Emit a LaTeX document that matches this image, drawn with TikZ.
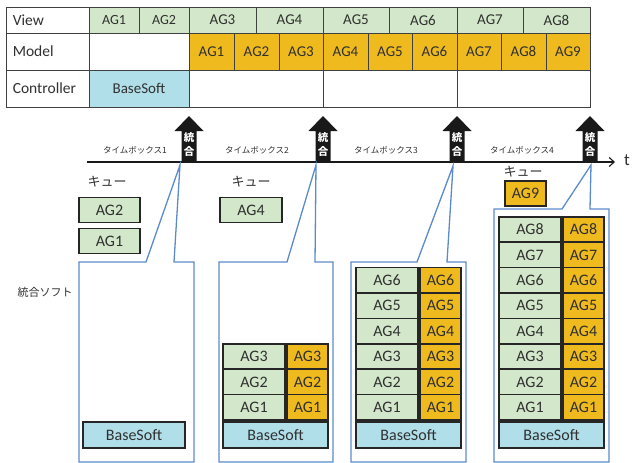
\documentclass[tikz,border=0pt]{standalone}
\usepackage{fontspec}
\setmainfont{Carlito}
\newfontfamily\jp{Noto Sans CJK JP}
\usetikzlibrary{arrows.meta}
\definecolor{gfill}{HTML}{D3E8CA}
\definecolor{ofill}{HTML}{EEBA1E}
\definecolor{bfill}{HTML}{B0DFEA}
\definecolor{cline}{HTML}{5B8BCB}
\definecolor{txt}{HTML}{303030}
\definecolor{bord}{HTML}{262626}
\definecolor{tline}{HTML}{404040}
\newcommand{\rbox}[7]{\node[#1, minimum width={(#4)-(#2)}, minimum height={(#5)-(#3)}] (#6) at ({((#2)+(#4))/2},{((#3)+(#5))/2}) {#7};}
\newcommand{\barrow}[2]{%
  \fill[black!90] (#1,116) -- (#1+14.5,131) -- (#1+7.5,131) -- (#1+7.5,161.5) -- (#1-7.5,161.5) -- (#1-7.5,131) -- (#1-14.5,131) -- cycle;
  \node[atxt] (#2a) at (#1,138) {統};
  \node[atxt] (#2b) at (#1,152) {合};}
\begin{document}
\begin{tikzpicture}[x=1pt,y=-1pt,
  cell/.style={draw=tline, line width=0.8pt, inner sep=0, text=txt, font=\fontsize{15}{15}\selectfont},
  vcell/.style={cell, fill=gfill},
  mcell/.style={cell, fill=ofill},
  ccell/.style={cell, fill=bfill},
  lbl/.style={anchor=west, inner sep=0, text=txt, font=\fontsize{15.5}{15.5}\selectfont},
  box/.style={draw=bord, line width=1.5pt, inner sep=0, text=txt, font=\fontsize{16}{16}\selectfont},
  gbox/.style={box, fill=gfill},
  obox/.style={box, fill=ofill},
  bbox/.style={box, fill=bfill},
  callout/.style={draw=cline, line width=1.3pt, line join=miter},
  jsmall/.style={inner sep=0, text=txt, font=\jp\fontsize{8.5}{8.5}\selectfont},
  jmid/.style={inner sep=0, text=txt, font=\jp\fontsize{13}{13}\selectfont},
  jlab/.style={inner sep=0, text=txt, font=\jp\fontsize{11}{11}\selectfont},
  atxt/.style={inner sep=0, text=white, font=\jp\bfseries\fontsize{10.5}{10.5}\selectfont},
]
\useasboundingbox (0,0) rectangle (632,463);

% ---------- table ----------
\rbox{cell}{6}{7}{89}{33}{lv}{}
\rbox{cell}{6}{33}{89}{70}{lm}{}
\rbox{cell}{6}{70}{89}{107}{lc}{}
\node[lbl] (lvt) at ([xshift=7pt]lv.west) {View};
\node[lbl] (lmt) at ([xshift=7pt]lm.west) {Model};
\node[lbl] (lct) at ([xshift=7pt]lc.west) {Controller};

\rbox{vcell, font=\fontsize{14}{14}\selectfont}{89}{7}{139}{33}{v1}{AG1}
\rbox{vcell, font=\fontsize{14}{14}\selectfont}{139}{7}{189}{33}{v2}{AG2}
\rbox{vcell}{189}{7}{256}{33}{v3}{AG3}
\rbox{vcell}{256}{7}{323}{33}{v4}{AG4}
\rbox{vcell}{323}{7}{389}{33}{v5}{AG5}
\rbox{vcell}{389}{7}{457}{33}{v6}{AG6}
\rbox{vcell}{457}{7}{523}{33}{v7}{AG7}
\rbox{vcell}{523}{7}{590}{33}{v8}{AG8}

\rbox{cell}{89}{33}{189}{70}{m0}{}
\rbox{mcell}{189}{33}{234}{70}{m1}{AG1}
\rbox{mcell}{234}{33}{279}{70}{m2}{AG2}
\rbox{mcell}{279}{33}{323}{70}{m3}{AG3}
\rbox{mcell}{323}{33}{368}{70}{m4}{AG4}
\rbox{mcell}{368}{33}{412}{70}{m5}{AG5}
\rbox{mcell}{412}{33}{457}{70}{m6}{AG6}
\rbox{mcell}{457}{33}{501}{70}{m7}{AG7}
\rbox{mcell}{501}{33}{546}{70}{m8}{AG8}
\rbox{mcell}{546}{33}{590}{70}{m9}{AG9}

\rbox{ccell}{89}{70}{189}{107}{c0}{BaseSoft}
\rbox{cell}{189}{70}{323}{107}{c1}{}
\rbox{cell}{323}{70}{457}{107}{c2}{}
\rbox{cell}{457}{70}{590}{107}{c3}{}

% ---------- timeline ----------
\coordinate (t0) at (87,162);
\coordinate (t1) at (615,162);
\draw[line width=1.1pt, black!90, -{Straight Barb[length=5pt,width=9pt,line width=1.1pt]}] (t0) -- (t1);
\node[inner sep=0, text=txt, font=\fontsize{17}{17}\selectfont] (tt) at (627,160) {t};

\node[jsmall] (tb1) at (135,150) {タイムボックス1};
\node[jsmall] (tb2) at (257,150) {タイムボックス2};
\node[jsmall] (tb3) at (386,150) {タイムボックス3};
\node[jsmall] (tb4) at (522,150) {タイムボックス4};

\barrow{189}{ba1}
\barrow{323}{ba2}
\barrow{457}{ba3}
\barrow{590}{ba4}

% ---------- queues ----------
\node[jmid] (q1) at (107,182) {キュー};
\node[jmid] (q2) at (251,182) {キュー};
\node[jmid] (q4) at (523,172) {キュー};
\rbox{gbox}{79}{197.5}{140}{222.5}{q1a}{AG2}
\rbox{gbox}{79}{228.5}{140}{253.5}{q1b}{AG1}
\rbox{gbox}{220}{197.5}{282}{222.5}{q2a}{AG4}
\rbox{obox}{505}{181}{546}{206}{q4a}{AG9}

\node[jlab] (sw) at (45,292) {統合ソフト};

% ---------- callouts ----------
\coordinate (p1) at (180,165);
\coordinate (p2) at (316,165);
\coordinate (p3) at (453,166);
\coordinate (p4) at (591,165);
\draw[callout] (79,262) -- (146,262) -- (p1) -- (174,262) -- (194,262) -- (194,462) -- (79,462) -- cycle;
\draw[callout] (219,262) -- (287,262) -- (p2) -- (315,262) -- (333,262) -- (333,462) -- (219,462) -- cycle;
\draw[callout] (351,262) -- (417,262) -- (p3) -- (447,262) -- (466,262) -- (466,462) -- (351,462) -- cycle;
\draw[callout] (494,209) -- (562,209) -- (p4) -- (590,209) -- (609,209) -- (609,462) -- (494,462) -- cycle;

% ---------- contents ----------
\rbox{bbox}{83}{422}{185}{448}{s1}{BaseSoft}
\rbox{bbox}{223}{422}{328}{448}{s2}{BaseSoft}
\rbox{bbox}{356}{422}{461}{448}{s3}{BaseSoft}
\rbox{bbox}{499}{422}{604}{448}{s4}{BaseSoft}

\foreach \i in {1,...,3}{
  \rbox{gbox}{223}{420-\i*25.4}{285}{420-\i*25.4+25.4}{c2g\i}{AG\i}
  \rbox{obox}{287}{420-\i*25.4}{328}{420-\i*25.4+25.4}{c2o\i}{AG\i}
}
\foreach \i in {1,...,6}{
  \rbox{gbox}{356}{420-\i*25.4}{418}{420-\i*25.4+25.4}{c3g\i}{AG\i}
  \rbox{obox}{420}{420-\i*25.4}{461}{420-\i*25.4+25.4}{c3o\i}{AG\i}
}
\foreach \i in {1,...,8}{
  \rbox{gbox}{499}{420-\i*25.4}{561}{420-\i*25.4+25.4}{c4g\i}{AG\i}
  \rbox{obox}{563}{420-\i*25.4}{604}{420-\i*25.4+25.4}{c4o\i}{AG\i}
}
\end{tikzpicture}
\end{document}
